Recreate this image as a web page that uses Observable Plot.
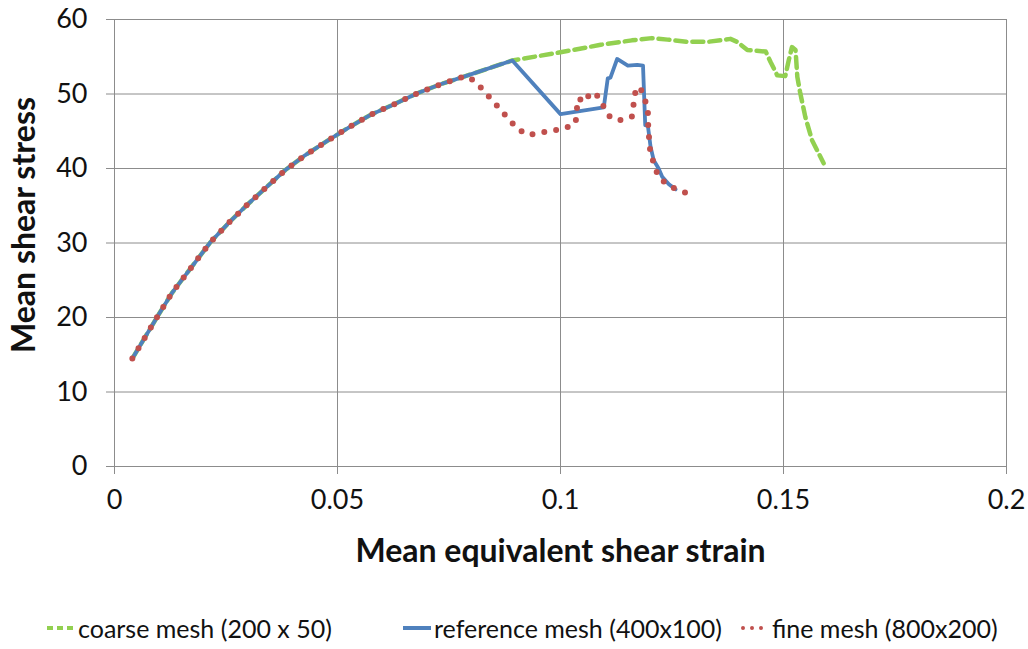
<!DOCTYPE html>
<html>
<head>
<meta charset="utf-8">
<script src="https://cdn.jsdelivr.net/npm/d3@7"></script>
<script src="https://cdn.jsdelivr.net/npm/@observablehq/plot@0.6"></script>
<style>
  body { margin: 0; background: #fff; font-family: Lato, "Open Sans", sans-serif; }
  #chart svg { display: block; }
  #chart svg g[aria-label="x-axis tick label"] text,
  #chart svg g[aria-label="y-axis tick label"] text { font-size: 27px; fill: #111; }
  #legend { position: absolute; top: 611px; left: 0; width: 1028px; height: 34px; font-size: 25px; color: #111; }
  .item { position: absolute; top: 0; display: flex; align-items: center; height: 34px; white-space: nowrap; }
  .item svg { margin-right: 2px; }
</style>
</head>
<body>
<div id="chart"></div>
<div id="legend"></div>
<script>
// ---- data ----
const xTicks = [0, 0.05, 0.1, 0.15, 0.2];
const yTicks = [0, 10, 20, 30, 40, 50, 60];

// shared initial branch (all meshes coincide)
const sharedX = [0.004, 0.0099, 0.0129, 0.0163, 0.0215, 0.0256, 0.0297, 0.0339, 0.0383, 0.0428, 0.0477, 0.0525, 0.0574, 0.0626, 0.0679, 0.0731, 0.0787];
const sharedY = [14.5, 20.4, 23.3, 26.0, 30.1, 32.7, 35.1, 37.4, 39.8, 41.8, 43.7, 45.5, 47.2, 48.6, 50.1, 51.3, 52.4];

// coarse mesh (200 x 50), after shared branch
const coarseX = [0.0892, 0.1, 0.109, 0.116, 0.1205, 0.124, 0.1285, 0.133, 0.1381, 0.1396, 0.1419, 0.146, 0.1471, 0.1486, 0.1504, 0.1512, 0.1519, 0.1527, 0.1531, 0.1537, 0.1549, 0.1564, 0.159];
const coarseY = [54.5, 55.6, 56.6, 57.2, 57.5, 57.3, 57.0, 57.0, 57.4, 57.0, 55.9, 55.7, 54.3, 52.5, 52.4, 54.6, 56.3, 55.9, 52.3, 50.3, 46.9, 43.8, 40.7];

// reference mesh (400x100), after shared branch
const refX = [0.0892, 0.1, 0.1097, 0.1106, 0.1112, 0.1127, 0.1151, 0.1172, 0.1185, 0.119, 0.1196, 0.1202, 0.1209, 0.122, 0.1228, 0.1243, 0.1258];
const refY = [54.5, 47.3, 48.2, 52.1, 52.2, 54.7, 53.8, 53.9, 53.8, 45.8, 45.7, 42.9, 41.1, 40.0, 38.9, 37.9, 37.2];

// fine mesh (800x200), after shared branch
const fineX = [0.0809, 0.0828, 0.0848, 0.0867, 0.0886, 0.0904, 0.0927, 0.0954, 0.0983, 0.1011, 0.1034, 0.1036, 0.104, 0.1055, 0.1067, 0.1082, 0.1097, 0.1112, 0.1135, 0.1161, 0.1164, 0.1168, 0.1178, 0.1188, 0.1196, 0.1196, 0.1198, 0.12, 0.1206, 0.1215, 0.1232, 0.1256, 0.1283];
const fineY = [51.7, 50.4, 49.1, 47.8, 46.5, 45.3, 44.5, 44.8, 45.1, 45.4, 46.1, 47.7, 49.4, 48.9, 50.2, 49.8, 48.3, 46.8, 46.5, 47.0, 48.7, 50.3, 51.0, 49.4, 48.1, 46.4, 44.6, 42.8, 41.3, 39.6, 38.2, 37.3, 36.7];

const seriesNames = ["coarse mesh (200 x 50)", "reference mesh (400x100)", "fine mesh (800x200)"];
const seriesColors = ["#92D050", "#4F81BD", "#C0504D"];
const xTitle = "Mean equivalent shear strain";
const yTitle = "Mean shear stress";

// ---- build tables ----
const toRows = (xs, ys) => xs.map((x, i) => ({x, y: ys[i]}));
const coarse = toRows(sharedX.concat(coarseX), sharedY.concat(coarseY));
const ref = toRows(sharedX.concat(refX), sharedY.concat(refY));
const fine = toRows(sharedX.concat(fineX), sharedY.concat(fineY));

const font = "Lato, 'Open Sans', sans-serif";
const chart = Plot.plot({
  width: 1028,
  height: 590,
  marginLeft: 114,
  marginRight: 22,
  marginTop: 19,
  marginBottom: 124,
  style: {fontFamily: font, fontSize: "27px", color: "#111", background: "#fff"},
  x: {domain: [0, 0.2], ticks: xTicks, tickFormat: d => String(d), tickSize: 8, tickPadding: 15, label: null},
  y: {domain: [0, 60], ticks: yTicks, tickFormat: d => String(d), tickSize: 8, tickPadding: 19, label: null},
  marks: [
    Plot.gridX(xTicks, {stroke: "#8c8c8c", strokeOpacity: 1, strokeWidth: 1}),
    Plot.gridY(yTicks, {stroke: "#8c8c8c", strokeOpacity: 1, strokeWidth: 1}),
    Plot.axisX({ticks: xTicks, tickFormat: d => String(d), tickSize: 8, tickPadding: 15, fontSize: 27, stroke: "#8c8c8c", label: null}),
    Plot.axisY({ticks: yTicks, tickFormat: d => String(d), tickSize: 8, tickPadding: 19, fontSize: 27, stroke: "#8c8c8c", label: null}),
    Plot.line(coarse, {x: "x", y: "y", stroke: seriesColors[0], strokeWidth: 4.5, strokeDasharray: "11 6"}),
    Plot.line(ref, {x: "x", y: "y", stroke: seriesColors[1], strokeWidth: 3.8, strokeLinejoin: "round"}),
    Plot.line(fine, {x: "x", y: "y", stroke: seriesColors[2], strokeWidth: 6, strokeDasharray: "0 12", strokeLinecap: "round"}),
    Plot.text([xTitle], {frameAnchor: "bottom", lineAnchor: "middle", textAnchor: "middle", dy: 85, fontSize: 32, fontWeight: "bold", fill: "#111"}),
    Plot.text([yTitle], {frameAnchor: "left", lineAnchor: "middle", textAnchor: "middle", rotate: -90, dx: -90, dy: -18, fontSize: 32, fontWeight: "bold", fill: "#111"})
  ]
});
document.getElementById("chart").appendChild(chart);

// ---- legend ----
const legend = document.getElementById("legend");
const swatches = [
  `<svg width="30" height="10"><line x1="1" y1="5" x2="29" y2="5" stroke="${seriesColors[0]}" stroke-width="4" stroke-dasharray="6 4"/></svg>`,
  `<svg width="30" height="10"><line x1="1" y1="5" x2="29" y2="5" stroke="${seriesColors[1]}" stroke-width="4"/></svg>`,
  `<svg width="30" height="10"><line x1="3" y1="5" x2="29" y2="5" stroke="${seriesColors[2]}" stroke-width="4" stroke-linecap="round" stroke-dasharray="0 9"/></svg>`
];
const lefts = [46, 402, 740];
seriesNames.forEach((name, i) => {
  const d = document.createElement("div");
  d.className = "item";
  d.style.left = lefts[i] + "px";
  d.innerHTML = swatches[i] + `<span>${name}</span>`;
  legend.appendChild(d);
});
</script>
</body>
</html>
